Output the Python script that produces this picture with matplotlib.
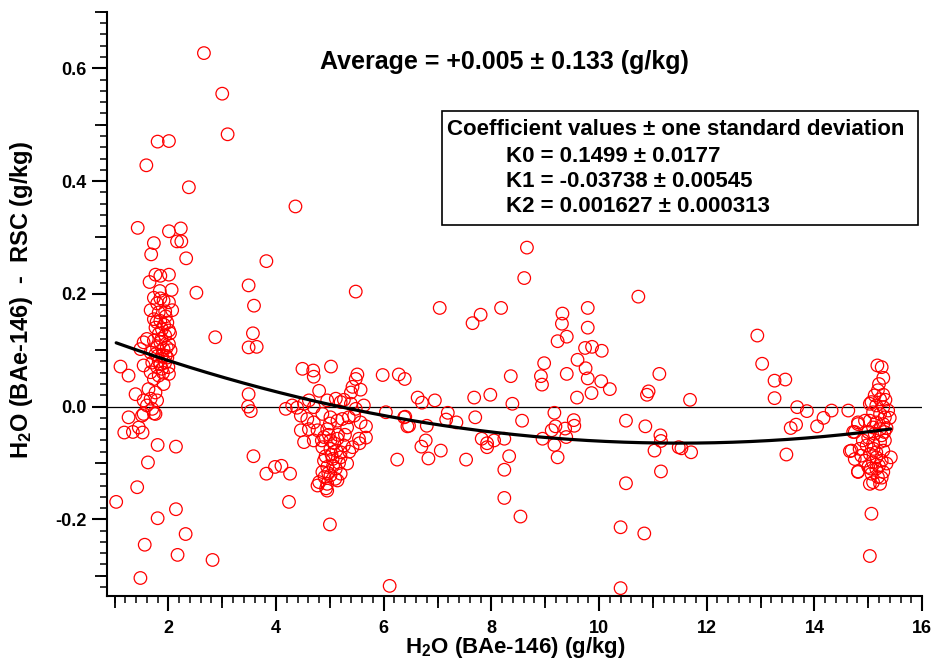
import matplotlib
matplotlib.use('Agg')
import matplotlib.pyplot as plt
import numpy as np
from matplotlib.ticker import MultipleLocator, FixedLocator, NullFormatter, FormatStrFormatter
from matplotlib.patches import Rectangle

plt.rcParams['font.family'] = ['Liberation Sans', 'DejaVu Sans']
plt.rcParams['font.weight'] = 'bold'
plt.rcParams['mathtext.fontset'] = 'custom'
plt.rcParams['mathtext.bf'] = 'Liberation Sans:bold'
plt.rcParams['mathtext.rm'] = 'Liberation Sans:bold'
plt.rcParams['mathtext.default'] = 'bf'
plt.rcParams['axes.unicode_minus'] = False

# ---------------- data ----------------
# isolated points, low H2O range
iso_x = [2.66, 3.00, 3.10, 1.80, 2.01, 1.59, 2.38, 4.36, 1.43, 2.01, 2.23, 1.73, 2.16, 2.24,
         1.68, 2.33, 3.82, 3.49, 3.59, 5.48, 2.52, 3.57, 2.87, 3.49, 3.64, 3.49, 3.48, 3.53,
         3.58, 3.82, 3.98, 4.10, 4.26, 4.24, 5.00, 6.11,
         1.18, 1.34, 1.45, 1.52, 1.62, 1.80, 2.14, 1.42, 1.03, 1.80, 2.14, 2.32, 1.56, 2.17,
         1.48, 2.82]
iso_y = [0.627, 0.555, 0.483, 0.470, 0.471, 0.428, 0.389, 0.355, 0.317, 0.311, 0.316, 0.290, 0.293, 0.293,
         0.270, 0.263, 0.258, 0.215, 0.179, 0.204, 0.202, 0.130, 0.123, 0.105, 0.106, 0.022, 0.000, -0.008,
         -0.088, -0.119, -0.107, -0.105, -0.119, -0.169, -0.209, -0.318,
         -0.046, -0.045, -0.037, -0.046, -0.099, -0.068, -0.071, -0.143, -0.169, -0.198, -0.182, -0.226, -0.245, -0.263,
         -0.304, -0.272]

# cluster near 2 g/kg
c2_x = [1.76, 1.85, 2.01, 1.65, 2.06, 1.84, 1.73, 1.85, 1.91, 2.01, 1.79, 2.07, 1.67, 1.82, 1.94,
        1.73, 1.85, 1.98, 1.76, 1.88, 2.01, 1.82, 1.94, 1.60, 1.54, 1.73, 1.85, 2.01, 1.79, 1.91,
        2.04, 1.48, 1.67, 1.76, 1.88, 1.98, 1.82, 1.70, 1.94, 1.54, 1.11, 1.79, 1.88, 1.67, 1.26,
        1.82, 2.01, 1.73, 1.91, 1.63, 1.76, 1.39, 1.54, 1.67, 1.79, 1.60, 1.70, 1.54, 1.73, 1.26,
        1.51, 1.95, 1.87, 2.03, 1.80, 1.97, 1.92, 1.78, 2.00, 1.85, 1.90, 1.95, 1.76]
c2_y = [0.234, 0.232, 0.234, 0.221, 0.207, 0.205, 0.193, 0.192, 0.188, 0.185, 0.183, 0.171, 0.171, 0.167, 0.169,
        0.155, 0.152, 0.149, 0.140, 0.137, 0.135, 0.129, 0.126, 0.120, 0.114, 0.117, 0.114, 0.111, 0.105, 0.102,
        0.100, 0.102, 0.096, 0.093, 0.090, 0.087, 0.081, 0.078, 0.078, 0.073, 0.071, 0.070, 0.067, 0.061, 0.055,
        0.055, 0.058, 0.049, 0.040, 0.031, 0.025, 0.022, 0.011, 0.014, 0.011, 0.002, -0.004, -0.013, -0.012, -0.019,
        -0.016, 0.160, 0.120, 0.130, 0.090, 0.105, 0.145, 0.150, 0.070, 0.075, 0.060, 0.090, -0.013]

# cluster near 5 g/kg
c5_x = [4.49, 4.69, 4.70, 5.02, 5.51, 5.48, 5.42, 5.57, 5.39, 4.80, 5.98, 6.28, 6.39,
        4.18, 4.30, 4.39, 4.52, 4.61, 4.70, 4.95, 5.11, 5.20, 5.26, 5.39, 5.48, 5.63, 6.04, 6.38, 6.44,
        4.46, 4.58, 4.70, 4.86, 5.01, 5.14, 5.23, 5.35, 5.45, 5.57, 5.67,
        4.46, 4.61, 4.77, 4.95, 5.32, 4.52, 4.70, 4.89, 5.01, 5.14, 5.26, 5.42, 5.54, 4.86, 5.01, 5.20,
        4.89, 5.05, 5.20, 5.32, 4.95, 5.11, 4.86, 5.01, 5.20, 4.80, 4.95, 5.14, 4.95, 4.77, 6.25,
        4.98, 5.08, 5.03, 5.12, 4.92, 5.17, 5.06, 4.97, 5.10, 4.90, 5.15, 5.00, 5.28, 5.36, 4.85, 4.93,
        5.67, 5.55]
c5_y = [0.067, 0.064, 0.053, 0.071, 0.057, 0.049, 0.035, 0.030, 0.025, 0.028, 0.056, 0.057, 0.049,
        -0.004, 0.002, -0.002, 0.005, 0.011, -0.001, 0.011, 0.014, 0.008, 0.012, 0.005, -0.004, 0.002, -0.010, -0.019, -0.035,
        -0.016, -0.022, -0.028, -0.013, -0.019, -0.025, -0.022, -0.019, -0.016, -0.028, -0.035,
        -0.042, -0.040, -0.042, -0.040, -0.037, -0.063, -0.060, -0.054, -0.060, -0.057, -0.069, -0.072, -0.057, -0.072, -0.075, -0.081,
        -0.096, -0.093, -0.090, -0.101, -0.107, -0.110, -0.116, -0.122, -0.119, -0.134, -0.137, -0.131, -0.149, -0.140, -0.094,
        -0.050, -0.065, -0.085, -0.078, -0.088, -0.100, -0.105, -0.118, -0.128, -0.125, -0.050, -0.030, -0.050, -0.080, -0.060, -0.145,
        -0.055, -0.065]

# middle range 6-12 g/kg
mid_x = [8.66, 8.61, 7.04, 7.65, 7.80, 8.18, 9.32, 9.31, 9.40, 9.23, 9.79, 9.79, 9.74, 9.87, 10.05,
         9.60, 10.73, 8.98, 8.92, 8.94, 9.40, 9.75, 9.79, 9.86, 10.04, 10.20, 9.59, 8.36, 6.63, 6.71,
         6.95, 7.68, 7.98, 8.39, 6.40, 6.47, 6.80, 7.19, 7.16, 7.35, 7.70, 7.82, 7.92, 8.05, 8.24,
         8.33, 8.24, 8.57, 7.92, 6.78, 6.70, 6.83, 7.06, 7.53, 8.24, 8.54, 10.40, 10.40, 10.84, 10.50,
         9.17, 9.19, 9.12, 8.95, 9.17, 9.23, 9.37, 9.39, 9.53, 9.54, 10.50, 10.86, 11.12, 10.89, 10.92,
         11.14, 11.03, 11.15, 11.15, 11.48, 11.69, 11.53, 11.71]
mid_y = [0.282, 0.228, 0.175, 0.148, 0.163, 0.175, 0.165, 0.147, 0.124, 0.116, 0.175, 0.140, 0.104, 0.106, 0.099,
         0.083, 0.195, 0.077, 0.054, 0.039, 0.058, 0.068, 0.050, 0.024, 0.045, 0.031, 0.016, 0.054, 0.016, 0.007,
         0.011, 0.016, 0.021, 0.005, -0.018, -0.034, -0.034, -0.011, -0.023, -0.028, -0.019, -0.057, -0.072, -0.060, -0.057,
         -0.088, -0.112, -0.025, -0.065, -0.060, -0.071, -0.092, -0.078, -0.094, -0.162, -0.195, -0.322, -0.214, -0.225, -0.136,
         -0.011, -0.035, -0.042, -0.057, -0.068, -0.090, -0.039, -0.054, -0.024, -0.034, -0.025, -0.035, 0.058, 0.021, 0.027,
         -0.051, -0.078, -0.061, -0.115, -0.072, 0.012, -0.074, -0.081]

# high range, 12-16 g/kg incl. cluster near 15 g/kg
hi_x = [12.94, 13.03, 13.26, 13.46, 13.26, 13.48, 13.68, 13.86, 14.32, 14.63, 13.56, 13.66, 14.05, 14.17,
        14.72, 14.66, 14.81, 14.81, 15.03, 15.06, 15.03,
        15.17, 15.25, 15.28, 15.18, 15.28, 15.22, 15.32, 15.06,
        15.15, 15.28, 15.37, 15.09, 15.22, 15.31, 15.03, 15.15, 15.28, 14.81, 14.94, 15.09, 15.22, 15.34,
        15.00, 15.12, 15.25, 14.75, 14.69, 14.84, 14.97, 15.09, 15.22, 15.31, 14.87, 15.03, 15.15, 15.28,
        14.75, 14.94, 15.09, 15.25, 15.34, 14.81, 15.00, 15.15, 15.28, 15.06, 15.18, 15.09, 15.22, 15.03, 15.25,
        15.20, 15.12, 15.30, 15.00, 15.15, 15.05, 15.20, 14.90, 15.10, 15.42, 15.40]
hi_y = [0.126, 0.076, 0.046, 0.048, 0.015, -0.085, -0.001, -0.008, -0.007, -0.007, -0.038, -0.032, -0.035, -0.020,
        -0.045, -0.079, -0.115, -0.031, 0.005, -0.190, -0.265,
        0.073, 0.070, 0.051, 0.029, 0.021, 0.013, 0.012, 0.008,
        0.002, -0.001, -0.007, -0.010, -0.013, -0.019, -0.025, -0.028, -0.031, -0.028, -0.025, -0.037, -0.040, -0.038,
        -0.045, -0.048, -0.051, -0.045, -0.078, -0.075, -0.069, -0.066, -0.063, -0.060, -0.087, -0.084, -0.081, -0.078,
        -0.093, -0.096, -0.099, -0.096, -0.101, -0.116, -0.107, -0.110, -0.116, -0.119, -0.125, -0.134, -0.137, -0.137, -0.126,
        0.040, 0.020, -0.045, -0.055, -0.090, -0.110, -0.105, -0.060, -0.075, -0.090, -0.020]

# fit coefficients (K0 + K1*x + K2*x^2)
K0, K1, K2 = 0.1499, -0.03738, 0.001627

avg_text = "Average = +0.005 \u00b1 0.133 (g/kg)"
box_lines = ["Coefficient values \u00b1 one standard deviation",
             "K0 = 0.1499 \u00b1 0.0177",
             "K1 = -0.03738 \u00b1 0.00545",
             "K2 = 0.001627 \u00b1 0.000313"]

# ---------------- plot ----------------
fig = plt.figure(figsize=(9.34, 6.63), dpi=100)
ax = fig.add_axes([0.1146, 0.101, 0.8726, 0.881])

all_x = np.array(iso_x + c2_x + c5_x + mid_x + hi_x)
all_y = np.array(iso_y + c2_y + c5_y + mid_y + hi_y)

ax.axhline(0.0, color='black', lw=0.9, zorder=2)
ax.scatter(all_x, all_y, s=82, facecolors='none', edgecolors='#ff0000', linewidths=0.9, zorder=3)

xf = np.linspace(all_x.min(), all_x.max(), 300)
ax.plot(xf, K0 + K1 * xf + K2 * xf ** 2, color='black', lw=2.3, zorder=4, solid_capstyle='round')

ax.set_xlim(0.86, 16.0)
ax.set_ylim(-0.336, 0.70)

for s in ['top', 'right']:
    ax.spines[s].set_visible(False)
for s in ['left', 'bottom']:
    ax.spines[s].set_linewidth(1.5)

ax.xaxis.set_major_locator(MultipleLocator(2))
ax.xaxis.set_minor_locator(MultipleLocator(0.2))
ax.yaxis.set_major_locator(FixedLocator([-0.2, 0.0, 0.2, 0.4, 0.6]))
ax.yaxis.set_minor_locator(MultipleLocator(0.02))
ax.yaxis.set_major_formatter(FormatStrFormatter('%.1f'))
ax.xaxis.set_major_formatter(FormatStrFormatter('%d'))
ax.tick_params(which='major', direction='out', length=10.5, width=1.5, labelsize=13)
ax.tick_params(axis='x', which='major', pad=7)
ax.tick_params(axis='y', which='major', pad=4.5)
ax.tick_params(which='minor', direction='out', length=5, width=1.1)
for lab in ax.get_xticklabels() + ax.get_yticklabels():
    lab.set_fontweight('bold')

# medium ticks (odd integers on x, odd tenths on y)
sx = ax.secondary_xaxis('bottom')
sx.set_xticks([1, 3, 5, 7, 9, 11, 13, 15])
sx.xaxis.set_major_formatter(NullFormatter())
sx.tick_params(direction='out', length=8.5, width=1.3)
sx.spines['bottom'].set_visible(False)
sy = ax.secondary_yaxis('left')
sy.set_yticks([-0.3, -0.1, 0.1, 0.3, 0.5, 0.7])
sy.yaxis.set_major_formatter(NullFormatter())
sy.tick_params(direction='out', length=8.5, width=1.3)
sy.spines['left'].set_visible(False)

fig.text(515 / 934, 1 - 648 / 663, r"H$_2$O (BAe-146) (g/kg)", ha='center', va='center',
         fontsize=16, fontweight='bold')
fig.text(22 / 934, 1 - 300 / 663, r"H$_2$O (BAe-146)  -  RSC (g/kg)", ha='center', va='center',
         rotation=90, fontsize=17, fontweight='bold')

ax.text(0.488, 0.914, avg_text, transform=ax.transAxes, ha='center', va='center',
        fontsize=18, fontweight='bold')

ax.add_patch(Rectangle((0.411, 0.636), 0.584, 0.194, transform=ax.transAxes,
                       facecolor='white', edgecolor='black', lw=1.2, zorder=5))
ax.text(0.417, 0.798, box_lines[0], transform=ax.transAxes, ha='left', va='center',
        fontsize=16, fontweight='bold', zorder=6)
for i, line in enumerate(box_lines[1:]):
    ax.text(0.489, 0.752 - 0.0425 * i, line, transform=ax.transAxes, ha='left', va='center',
            fontsize=16, fontweight='bold', zorder=6)

fig.savefig('out.png', dpi=100)
